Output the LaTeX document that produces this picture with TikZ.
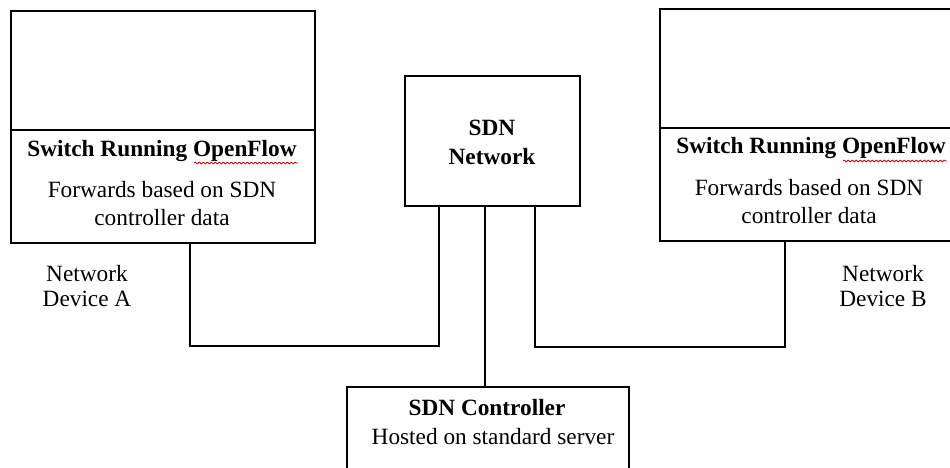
\documentclass[tikz,border=0pt]{standalone}
\usepackage{fontspec}
\setmainfont{LiberationSerif}[Extension=.ttf,UprightFont=*-Regular,BoldFont=*-Bold,ItalicFont=*-Italic,BoldItalicFont=*-BoldItalic]
\usetikzlibrary{decorations.pathmorphing}
\begin{document}
\begin{tikzpicture}[x=1pt,y=-1pt,
  box/.style={draw=black,line width=2pt,rectangle,inner sep=0pt,anchor=north west},
  wire/.style={draw=black,line width=2pt},
  lbl/.style={inner sep=0pt,align=center,font=\fontsize{23.3}{28}\selectfont},
  blbl/.style={lbl,font=\fontsize{23.3}{29}\selectfont\bfseries},
  squig/.style={draw=red!85!black,line width=0.8pt,decorate,decoration={snake,amplitude=0.9pt,segment length=4pt}}
]
\useasboundingbox (0,0) rectangle (950,468);
% left device
\node[box,minimum width=304pt,minimum height=119pt] (aTop) at (10,10) {};
\node[box,minimum width=304pt,minimum height=113pt] (aBot) at (10,129) {};
\node[blbl] (aTitle) at (162,151) {Switch Running OpenFlow};
\node[lbl] (aText) at (162,204) {Forwards based on SDN\\controller data};
\node[lbl,font=\fontsize{23.3}{25}\selectfont] (aName) at (87,286) {Network\\Device A};
% right device
\node[box,minimum width=304pt,minimum height=119pt] (bTop) at (659,8) {};
\node[box,minimum width=304pt,minimum height=113pt] (bBot) at (659,127) {};
\node[blbl] (bTitle) at (811,148) {Switch Running OpenFlow};
\node[lbl] (bText) at (809,202) {Forwards based on SDN\\controller data};
\node[lbl,font=\fontsize{23.3}{25}\selectfont] (bName) at (883,286) {Network\\Device B};
% SDN network
\node[box,minimum width=175pt,minimum height=130pt] (net) at (404,75) {};
\node[blbl] (netText) at (492,142) {SDN\\Network};
% controller
\node[box,minimum width=282pt,minimum height=120pt] (ctl) at (346,386) {};
\node[blbl] (ctlTitle) at (487,408) {SDN Controller};
\node[lbl] (ctlText) at (493,437) {Hosted on standard server};
% connectors
\coordinate (cA1) at (190,346);
\coordinate (cA2) at (439,346);
\coordinate (cM) at (485,300);
\coordinate (cB1) at (535,347);
\coordinate (cB2) at (785,347);
\draw[wire] (cA1 |- aBot.south) -- (cA1) -- (cA2) -- (cA2 |- net.south);
\draw[wire] (cM |- net.south) -- (cM |- ctl.north);
\draw[wire] (cB1 |- net.south) -- (cB1) -- (cB2) -- (cB2 |- bBot.south);
% spell-check underlines
\path[squig] (194,163) -- (298,163);
\path[squig] (843,161) -- (947,161);
\end{tikzpicture}
\end{document}
